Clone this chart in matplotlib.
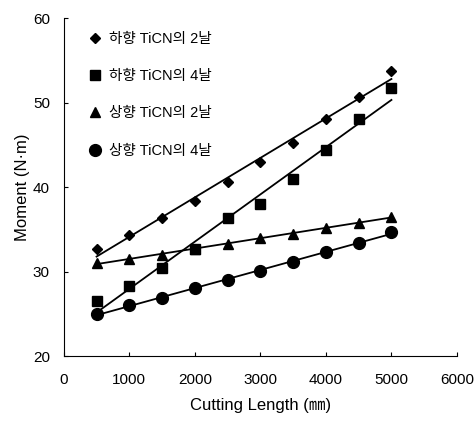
import numpy as np
import matplotlib.pyplot as plt

plt.rcParams['font.family'] = ['Liberation Sans', 'Noto Sans CJK KR', 'DejaVu Sans']

# cutting length (mm)
length = [500, 1000, 1500, 2000, 2500, 3000, 3500, 4000, 4500, 5000]

# moment (N·m) for each case
down_2 = [32.7, 34.3, 36.3, 38.3, 40.6, 43.0, 45.2, 48.0, 50.7, 53.7]
down_4 = [26.5, 28.3, 30.4, 32.7, 36.3, 38.0, 41.0, 44.4, 48.0, 51.7]
up_2 = [31.0, 31.5, 32.0, 32.7, 33.3, 34.0, 34.5, 35.1, 35.8, 36.5]
up_4 = [25.0, 26.0, 26.9, 28.0, 29.0, 30.1, 31.1, 32.3, 33.4, 34.7]

labels = ["하향 TiCN의 2날", "하향 TiCN의 4날", "상향 TiCN의 2날", "상향 TiCN의 4날"]
markers = ['D', 's', '^', 'o']
msizes = [5.5, 7, 6.5, 8.5]

fig = plt.figure(figsize=(4.76, 4.30), dpi=100)
ax = fig.add_axes([0.134, 0.172, 0.826, 0.786])

x = np.array(length)
for ys, lab, m, ms in zip([down_2, down_4, up_2, up_4], labels, markers, msizes):
    ax.plot(x, ys, linestyle='none', marker=m, markersize=ms, color='black', label=lab)
    # linear fit line
    k, b = np.polyfit(x, ys, 1)
    ax.plot(x[[0, -1]], k * x[[0, -1]] + b, color='black', linewidth=1.3)

ax.set_xlim(0, 6000)
ax.set_ylim(20, 60)
ax.set_xticks(range(0, 6001, 1000))
ax.set_yticks(range(20, 61, 10))
ax.spines['top'].set_visible(False)
ax.spines['right'].set_visible(False)
ax.tick_params(direction='in', length=3, labelsize=11)
ax.tick_params(axis='x', pad=12)
ax.tick_params(axis='y', pad=10)

ax.set_xlabel("Cutting Length (㎜)", fontsize=12, labelpad=8)
ax.set_ylabel("Moment (N·m)", fontsize=12, labelpad=2)

ax.legend(loc='upper left', frameon=False, fontsize=10.5, labelspacing=1.6,
          handletextpad=0.45, handlelength=1.0, borderaxespad=0.3,
          bbox_to_anchor=(0.035, 0.99))

plt.savefig("out.png")
